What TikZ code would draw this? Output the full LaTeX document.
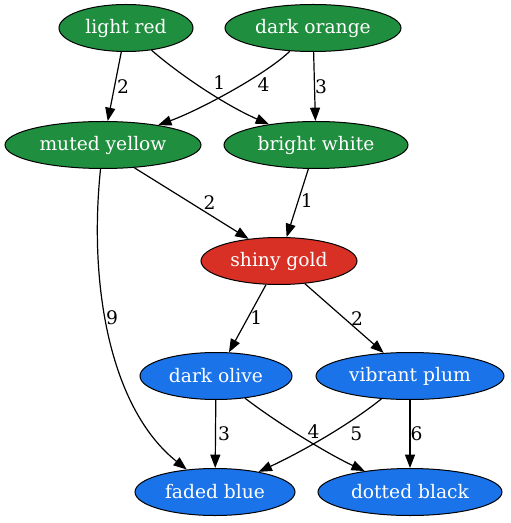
\documentclass[tikz,border=0pt]{standalone}
\usepackage{fontspec}
\setmainfont{DejaVu Serif}
\usetikzlibrary{shapes.geometric,arrows.meta}

\definecolor{bagGreen}{RGB}{31,142,62}
\definecolor{bagRed}{RGB}{217,48,37}
\definecolor{bagBlue}{RGB}{26,115,232}

\begin{document}
\begin{tikzpicture}[x=0.75pt,y=-0.75pt]
\useasboundingbox (0,0) rectangle (510,523);
\begin{scope}
	\tikzstyle{every node}=[font=\fontsize{14}{16}\selectfont]
	\tikzstyle{bag}=[ellipse, draw, line width=0.75pt, inner sep=0pt, minimum height=35.25pt, text=white]
	\tikzstyle{num}=[inner sep=1.5pt]
	\tikzstyle{edge}=[line width=0.9pt, -{Triangle[length=10pt,width=7.5pt]}]
	\node[bag, fill=bagGreen, minimum width=100.5pt] (lr) at (126,28) {light red};
	\node[bag, fill=bagGreen, minimum width=132pt] (dor) at (313,28) {dark orange};
	\node[bag, fill=bagGreen, minimum width=147pt] (my) at (103,145) {muted yellow};
	\node[bag, fill=bagGreen, minimum width=138pt] (bw) at (316,145) {bright white};
	\node[bag, fill=bagRed, minimum width=117pt] (sg) at (279,261) {shiny gold};
	\node[bag, fill=bagBlue, minimum width=114pt] (dol) at (216,376) {dark olive};
	\node[bag, fill=bagBlue, minimum width=141pt] (vp) at (410,376) {vibrant plum};
	\node[bag, fill=bagBlue, minimum width=120pt] (fb) at (215,492) {faded blue};
	\node[bag, fill=bagBlue, minimum width=138pt] (dbl) at (410,492) {dotted black};

	\draw[edge] (lr) -- node[num, pos=0.5, right]{2} (my);
	\draw[edge] (lr) .. controls (180,75) and (225,105) .. node[num, pos=0.53, above right, xshift=2pt]{1} (bw);
	\draw[edge] (dor) .. controls (268,73) and (200,110) .. node[num, pos=0.43, right, xshift=10pt]{4} (my);
	\draw[edge] (dor) -- node[num, right, xshift=-1.5pt]{3} (bw);
	\draw[edge] (my.-36) -- node[num, pos=0.62, above right, xshift=-3pt]{2} (sg.144);
	\draw[edge] (bw) -- node[num, pos=0.46, right]{1} (sg);
	\draw[edge] (my) .. controls (88,290) and (112,410) .. node[num, pos=0.425, right, xshift=-1.5pt]{9} (fb);
	\draw[edge] (sg) -- node[num, pos=0.49, right]{1} (dol);
	\draw[edge] (sg) -- node[num, pos=0.58, above right, xshift=-1.5pt, yshift=-3pt]{2} (vp);
	\draw[edge] (dol) -- node[num, right]{3} (fb);
	\draw[edge] (dol) .. controls (280,425) and (330,455) .. node[num, pos=0.5, above right, yshift=-2pt]{4} (dbl);
	\draw[edge] (vp) .. controls (345,428) and (295,455) .. node[num, pos=0.42, right, xshift=13pt]{5} (fb);
	\draw[edge] (vp) -- node[num, right, xshift=-1.5pt]{6} (dbl);
\end{scope}
\end{tikzpicture}
\end{document}
